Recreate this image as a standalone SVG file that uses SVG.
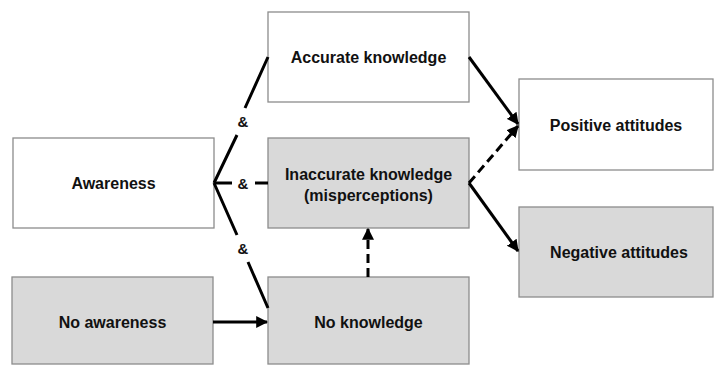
<svg xmlns="http://www.w3.org/2000/svg" width="714" height="367" viewBox="0 0 714 367">
<defs>
<marker id="ah" markerWidth="4" markerHeight="4" refX="3.6" refY="2" orient="auto" markerUnits="strokeWidth">
<path d="M0,0 L4,2 L0,4 Z" fill="#000"/>
</marker>
<style>
.box{stroke:#8c8c8c;stroke-width:1.3}
.w{fill:#fff}
.g{fill:#d9d9d9}
.t{font-family:"Liberation Sans",Arial,sans-serif;font-weight:bold;font-size:16px;fill:#111;text-anchor:middle}
.amp{font-family:"Liberation Sans",Arial,sans-serif;font-weight:bold;font-size:15px;fill:#111;text-anchor:middle}
.c{stroke:#000;stroke-width:3;fill:none}
.d{stroke-dasharray:9,5}
</style>
</defs>
<rect width="714" height="367" fill="#fff"/>
<g id="accurate"><rect class="box w" x="268" y="12" width="201" height="90"/><text class="t" x="368.5" y="63">Accurate knowledge</text></g>
<g id="awareness"><rect class="box w" x="13" y="138" width="201" height="90"/><text class="t" x="113.5" y="189">Awareness</text></g>
<g id="inaccurate"><rect class="box g" x="268" y="138" width="201" height="90"/><text class="t" x="368.5" y="180">Inaccurate knowledge</text><text class="t" x="368.5" y="201">(misperceptions)</text></g>
<g id="positive"><rect class="box w" x="519" y="79" width="194" height="91"/><text class="t" x="616" y="131">Positive attitudes</text></g>
<g id="negative"><rect class="box g" x="519" y="207" width="194" height="90"/><text class="t" x="619" y="258">Negative attitudes</text></g>
<g id="noawareness"><rect class="box g" x="12" y="277" width="201" height="87"/><text class="t" x="112.5" y="328">No awareness</text></g>
<g id="noknowledge"><rect class="box g" x="268" y="277" width="201" height="87"/><text class="t" x="368.5" y="328">No knowledge</text></g>
<g id="connectors">
<path class="c" d="M214,183 L237,135 M245,108 L268,57"/>
<path class="c" d="M214,183 L232,183 M255,183 L268,183"/>
<path class="c" d="M214,183 L237,235 M248,262 L268,308"/>
<text class="amp" x="243" y="127">&amp;</text>
<text class="amp" x="243" y="188.5">&amp;</text>
<text class="amp" x="243" y="253.5">&amp;</text>
<path class="c" d="M469,57 L518,124" marker-end="url(#ah)"/>
<path class="c d" d="M469,183 L518,126" marker-end="url(#ah)"/>
<path class="c" d="M469,183 L518,251" marker-end="url(#ah)"/>
<path class="c" d="M213,322 L267,322" marker-end="url(#ah)"/>
<path class="c d" d="M368,277 L368,229" marker-end="url(#ah)"/>
</g>
</svg>
